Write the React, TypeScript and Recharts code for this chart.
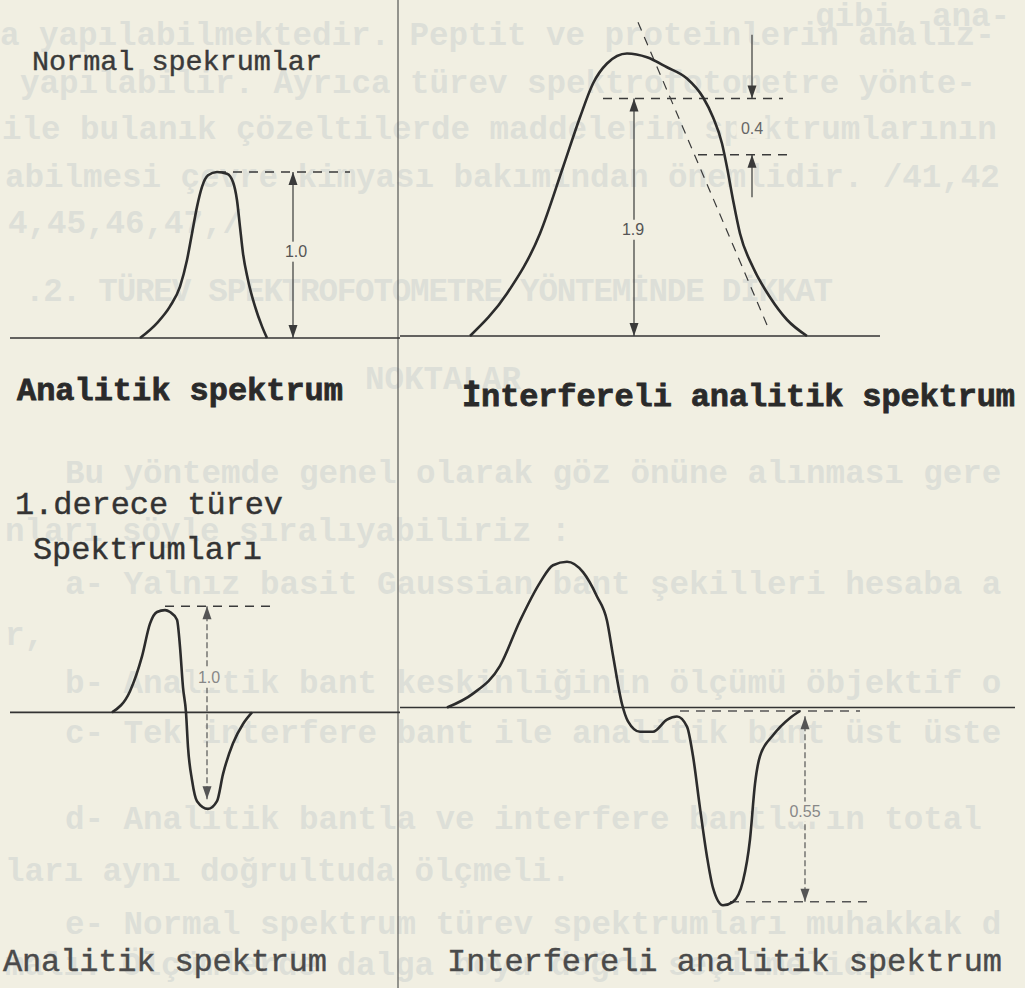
import React from 'react';
import { LineChart, Line, XAxis, YAxis, ReferenceLine, ReferenceDot } from 'recharts';

// dalga boyu (nm) / absorbans değerleri
const analyticNm = [270, 278.5, 285, 290, 293.5, 296, 298.5, 301, 304, 308.5, 313.5, 316.5, 318.5, 320, 321.5, 324, 327.5, 331, 333.5];
const analyticAbs = [0, 0.09, 0.19, 0.31, 0.47, 0.63, 0.79, 0.91, 0.98, 1.0, 0.99, 0.94, 0.83, 0.67, 0.51, 0.35, 0.19, 0.07, 0];

const interfNm = [235, 253.5, 270, 281.5, 290, 296.5, 303.5, 313.5, 323.5, 333.5, 343.5, 351.5, 356.5, 361, 363.5, 366.5, 370, 376.5, 385, 393.5, 403.5];
const interfAbs = [0, 0.34, 0.82, 1.35, 1.75, 2.02, 2.18, 2.26, 2.23, 2.15, 2.06, 1.91, 1.75, 1.54, 1.35, 1.09, 0.82, 0.55, 0.31, 0.13, 0];

// 1. derece türev spektrumları
const d1Nm = [256, 265, 271, 275, 278.5, 282.5, 285, 288.5, 290, 291.5, 293, 294, 296, 298.5, 304, 308.5, 311.5, 316.5, 321.5, 326];
const d1Val = [0, 0.11, 0.29, 0.46, 0.52, 0.53, 0.52, 0.48, 0.34, 0.13, 0, -0.18, -0.35, -0.46, -0.5, -0.46, -0.32, -0.16, -0.06, 0];

const d1InterfNm = [223.5, 236.5, 250, 260, 270, 276.5, 283.5, 291.5, 298.5, 303.5, 306.5, 311, 314, 320, 326.5, 333.5, 338.5, 343.5, 346.5, 350, 353.5, 356.5, 361.5, 366.5, 371.5, 375, 377.5, 380, 386.5, 395, 400];
const d1InterfVal = [0, 0.04, 0.12, 0.25, 0.36, 0.41, 0.42, 0.39, 0.32, 0.25, 0.15, 0.01, -0.04, -0.07, -0.07, -0.035, -0.026, -0.055, -0.14, -0.29, -0.43, -0.52, -0.57, -0.56, -0.5, -0.38, -0.22, -0.14, -0.08, -0.03, -0.01];

// ölçü işaretleri
const analyticHeight = 1.0;
const interfTotal = 1.9;
const interfUpper = 1.9;
const interfLower = 1.45;
const tangentLine = [{ nm: 319, a: 2.51 }, { nm: 384, a: 0.07 }];
const d1Top = 0.55;
const d1Bottom = -0.45;
const d1InterfTop = -0.01;
const d1InterfBottom = -0.56;

// arka sayfadan geçen silik yazı
const ghostLines = [
  { text: 'gibi, ana-', x: 815, y: 17 },
  { text: 'a yapılabilmektedir. Peptit ve proteinlerin analiz-', x: 0, y: 36 },
  { text: 'yapılabilir. Ayrıca türev spektrofotometre yönte-', x: 20, y: 84 },
  { text: 'ile bulanık çözeltilerde maddelerin spektrumlarının', x: 2, y: 130 },
  { text: 'abilmesi çevre kimyası bakımından önemlidir. /41,42', x: 5, y: 178 },
  { text: '4,45,46,47,/', x: 8, y: 224 },
  { text: '.2. TÜREV SPEKTROFOTOMETRE YÖNTEMİNDE DİKKAT', x: 25, y: 292, w: 808 },
  { text: 'NOKTALAR', x: 365, y: 380 },
  { text: 'Bu yöntemde genel olarak göz önüne alınması gere', x: 65, y: 474 },
  { text: 'nları şöyle sıralıyabiliriz :', x: 5, y: 532 },
  { text: 'a- Yalnız basit Gaussian bant şekilleri hesaba a', x: 65, y: 585 },
  { text: 'r,', x: 5, y: 636 },
  { text: 'b- Analitik bant keskinliğinin ölçümü öbjektif o', x: 65, y: 684 },
  { text: 'c- Tek interfere bant ile analitik bant üst üste', x: 65, y: 734 },
  { text: 'd- Analitik bantla ve interfere bantların total', x: 65, y: 820 },
  { text: 'ları aynı doğrultuda ölçmeli.', x: 5, y: 872 },
  { text: 'e- Normal spektrum türev spektrumları muhakkak d', x: 65, y: 925 },
  { text: 'malı. Ölçümlerde dalga boyu doğru seçilmelidir.', x: 5, y: 966 },
];

const titles = [
  { text: 'Normal spekrumlar', x: 32, y: 62, w: 290, size: 28.5, bold: false, fill: '#3a3a3a' },
  { text: 'Analitik spektrum', x: 17, y: 391, w: 326, size: 32, bold: true, fill: '#2a2a2a' },
  { text: 'İnterfereli analitik spektrum', x: 462, y: 397, w: 553, size: 32, bold: true, fill: '#2a2a2a' },
  { text: '1.derece türev', x: 15, y: 505, w: 268, size: 32, bold: false, fill: '#333' },
  { text: 'Spektrumları', x: 33, y: 550, w: 229, size: 32, bold: false, fill: '#333' },
  { text: 'Analitik spektrum', x: 3, y: 962, w: 324, size: 32, bold: false, fill: '#4a4a4a' },
  { text: 'Interfereli analitik spektrum', x: 447, y: 962, w: 555, size: 32, bold: false, fill: '#4a4a4a' },
];

const PAPER = '#f1efe2';
const INK = '#2c2c2c';
const MONO = '"Liberation Mono", "Courier New", monospace';

const zip = (xs: number[], ys: number[]) => xs.map((nm, i) => ({ nm, a: ys[i] }));

const arrowShape = (heads: 'both' | 'end', dash?: string, color = '#3a3a3a') => (p: any) => {
  const { x1, y1, x2, y2 } = p;
  const dir = Math.sign(y2 - y1);
  const head = (x: number, y: number, d: number) => (
    <polygon points={`${x},${y} ${x - 4.5},${y - d * 13} ${x + 4.5},${y - d * 13}`} fill={color} />
  );
  return (
    <g>
      <line x1={x1} y1={y1} x2={x2} y2={y2} stroke={color} strokeWidth={1.2} strokeDasharray={dash} />
      {heads === 'both' && head(x1, y1, -dir)}
      {head(x2, y2, dir)}
    </g>
  );
};

const tagShape = (text: string, color = '#555') => (p: any) => {
  const w = text.length * 9 + 4;
  return (
    <g>
      <rect x={p.cx - w / 2} y={p.cy - 10} width={w} height={20} fill={PAPER} />
      <text x={p.cx} y={p.cy} textAnchor="middle" dominantBaseline="central"
        fontFamily='"Liberation Sans", Arial, sans-serif' fontSize={16} fill={color}>{text}</text>
    </g>
  );
};

const dashed = { stroke: '#3a3a3a', strokeWidth: 1.4, strokeDasharray: '9 7', ifOverflow: 'visible' as const };
const base = { stroke: '#333', strokeWidth: 1.6, ifOverflow: 'visible' as const };

interface PanelProps {
  left: number; top: number; width: number; height: number;
  xDomain: [number, number]; yDomain: [number, number];
  data: { nm: number; a: number }[];
  children?: React.ReactNode;
}

const Panel: React.FC<PanelProps> = ({ left, top, width, height, xDomain, yDomain, data, children }) => (
  <div style={{ position: 'absolute', left, top }}>
    <LineChart width={width} height={height} data={data} margin={{ top: 0, right: 0, bottom: 0, left: 0 }}>
      <XAxis type="number" dataKey="nm" domain={xDomain} hide allowDataOverflow />
      <YAxis type="number" domain={yDomain} hide allowDataOverflow />
      {children}
      <Line type="monotone" dataKey="a" stroke={INK} strokeWidth={2.6} dot={false} isAnimationActive={false} />
    </LineChart>
  </div>
);

export default function App() {
  return (
    <div style={{ position: 'absolute', left: 0, top: 0, width: 1025, height: 988, background: PAPER, overflow: 'hidden' }}>
      <svg width={1025} height={988} style={{ position: 'absolute', left: 0, top: 0 }}>
        {ghostLines.map((g, i) => (
          <text key={i} x={g.x} y={g.y} dominantBaseline="central" fontFamily={MONO} fontWeight="bold"
            fontSize={32.5} fill="#dddfd8" textLength={g.w} lengthAdjust={g.w ? 'spacing' : undefined}>{g.text}</text>
        ))}
        <line x1={398} y1={0} x2={398} y2={988} stroke="#555" strokeWidth={1.2} />
      </svg>

      {/* normal spektrumlar */}
      <Panel left={0} top={6} width={400} height={415} xDomain={[200, 400]} yDomain={[-0.5, 2.0]} data={zip(analyticNm, analyticAbs)}>
        <ReferenceLine segment={[{ x: 205, y: 0 }, { x: 406, y: 0 }]} {...base} />
        <ReferenceLine segment={[{ x: 308.5, y: analyticHeight }, { x: 375, y: analyticHeight }]} {...dashed} />
        <ReferenceLine segment={[{ x: 346.5, y: analyticHeight }, { x: 346.5, y: 0 }]} shape={arrowShape('both')} ifOverflow="visible" />
        <ReferenceDot x={348} y={0.52} r={0} shape={tagShape('1.0')} ifOverflow="visible" />
      </Panel>

      <Panel left={400} top={11} width={625} height={387.5} xDomain={[200, 512.5]} yDomain={[-0.5, 2.6]} data={zip(interfNm, interfAbs)}>
        <ReferenceLine segment={[{ x: 200, y: 0 }, { x: 440, y: 0 }]} {...base} />
        <ReferenceLine segment={[{ x: tangentLine[0].nm, y: tangentLine[0].a }, { x: tangentLine[1].nm, y: tangentLine[1].a }]} {...dashed} strokeWidth={1.2} />
        <ReferenceLine segment={[{ x: 301.5, y: interfUpper }, { x: 391.5, y: interfUpper }]} {...dashed} />
        <ReferenceLine segment={[{ x: 349, y: interfLower }, { x: 394, y: interfLower }]} {...dashed} />
        <ReferenceLine segment={[{ x: 317, y: 0 }, { x: 317, y: interfTotal }]} shape={arrowShape('both')} ifOverflow="visible" />
        <ReferenceLine segment={[{ x: 376, y: 2.41 }, { x: 376, y: interfUpper }]} shape={arrowShape('end')} ifOverflow="visible" />
        <ReferenceLine segment={[{ x: 376, y: 1.11 }, { x: 376, y: interfLower }]} shape={arrowShape('end')} ifOverflow="visible" />
        <ReferenceDot x={316.5} y={0.85} r={0} shape={tagShape('1.9')} ifOverflow="visible" />
        <ReferenceDot x={376} y={1.66} r={0} shape={tagShape('0.4', '#666')} ifOverflow="visible" />
      </Panel>

      {/* 1. derece türev spektrumları */}
      <Panel left={0} top={557.6} width={400} height={308.8} xDomain={[200, 400]} yDomain={[-0.8, 0.8]} data={zip(d1Nm, d1Val)}>
        <ReferenceLine segment={[{ x: 205, y: 0 }, { x: 400, y: 0 }]} {...base} />
        <ReferenceLine segment={[{ x: 282.5, y: d1Top }, { x: 336.5, y: d1Top }]} {...dashed} />
        <ReferenceLine segment={[{ x: 303.5, y: d1Top }, { x: 303.5, y: d1Bottom }]} shape={arrowShape('both', '6 3', '#555')} ifOverflow="visible" />
        <ReferenceDot x={304.5} y={0.18} r={0} shape={tagShape('1.0', '#888')} ifOverflow="visible" />
      </Panel>

      <Panel left={400} top={533.5} width={625} height={381.7} xDomain={[200, 512.5]} yDomain={[-0.6, 0.5]} data={zip(d1InterfNm, d1InterfVal)}>
        <ReferenceLine segment={[{ x: 200, y: 0 }, { x: 507.5, y: 0 }]} {...base} />
        <ReferenceLine segment={[{ x: 340, y: d1InterfTop }, { x: 430, y: d1InterfTop }]} {...dashed} stroke="#555" />
        <ReferenceLine segment={[{ x: 365, y: d1InterfBottom }, { x: 435, y: d1InterfBottom }]} {...dashed} stroke="#555" />
        <ReferenceLine segment={[{ x: 402.5, y: -0.025 }, { x: 402.5, y: d1InterfBottom }]} shape={arrowShape('both', '6 3', '#555')} ifOverflow="visible" />
        <ReferenceDot x={402.5} y={-0.3} r={0} shape={tagShape('0.55', '#888')} ifOverflow="visible" />
      </Panel>

      <svg width={1025} height={988} style={{ position: 'absolute', left: 0, top: 0, pointerEvents: 'none' }}>
        {titles.map((t, i) => (
          <text key={i} x={t.x} y={t.y} dominantBaseline="central" fontFamily={MONO} fontSize={t.size}
            fontWeight={t.bold ? 'bold' : 'normal'} fill={t.fill} stroke={t.fill} strokeWidth={t.bold ? 0.8 : 0.4}
            textLength={t.w} lengthAdjust="spacing">{t.text}</text>
        ))}
      </svg>
    </div>
  );
}
